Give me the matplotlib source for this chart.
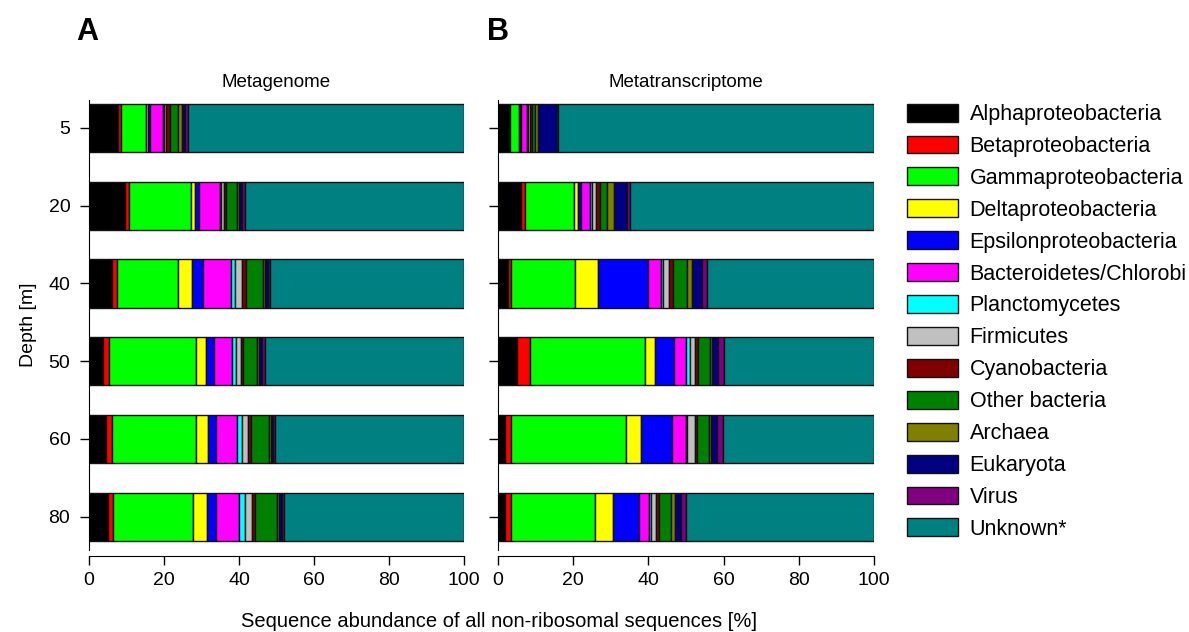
import numpy as np
import matplotlib
matplotlib.use("Agg")
import matplotlib.pyplot as plt
from matplotlib.patches import Patch

plt.rcParams['font.family'] = ['Liberation Sans', 'DejaVu Sans']

depths = ['5', '20', '40', '50', '60', '80']

groups = ['Alphaproteobacteria', 'Betaproteobacteria', 'Gammaproteobacteria',
          'Deltaproteobacteria', 'Epsilonproteobacteria', 'Bacteroidetes/Chlorobi',
          'Planctomycetes', 'Firmicutes', 'Cyanobacteria', 'Other bacteria',
          'Archaea', 'Eukaryota', 'Virus', 'Unknown*']

colors = ['#000000', '#ff0000', '#00ff00', '#ffff00', '#0000ff', '#ff00ff',
          '#00ffff', '#c0c0c0', '#800000', '#008000', '#808000', '#000080',
          '#800080', '#008080']

# metagenome, one list per group, values per depth (5, 20, 40, 50, 60, 80 m)
mg_alpha   = [7.7, 9.6, 6.2, 3.8, 4.5, 5.0]
mg_beta    = [0.8, 1.1, 1.3, 1.6, 1.5, 1.5]
mg_gamma   = [6.7, 16.5, 16.1, 23.1, 22.4, 21.3]
mg_delta   = [0.5, 1.0, 3.8, 2.7, 3.4, 3.7]
mg_epsilon = [0.6, 1.1, 3.1, 2.1, 2.0, 2.3]
mg_bact    = [3.5, 5.7, 7.3, 4.7, 5.7, 6.3]
mg_plancto = [0.3, 0.3, 1.1, 1.2, 1.4, 1.5]
mg_firm    = [0.5, 0.8, 1.8, 1.2, 1.4, 1.8]
mg_cyano   = [1.0, 0.5, 1.2, 0.7, 0.8, 0.9]
mg_other   = [2.0, 2.9, 4.6, 3.8, 4.9, 5.9]
mg_archaea = [1.1, 0.6, 0.4, 0.4, 0.4, 0.5]
mg_euk     = [0.9, 0.7, 0.8, 0.8, 0.6, 0.8]
mg_virus   = [0.7, 0.7, 0.6, 0.8, 0.6, 0.6]
mg_unknown = [73.7, 58.5, 51.7, 53.1, 50.4, 47.9]

# metatranscriptome
mt_alpha   = [3.1, 6.0, 2.7, 5.1, 1.8, 2.0]
mt_beta    = [0.2, 1.1, 0.9, 3.3, 1.8, 1.5]
mt_gamma   = [2.3, 13.1, 16.8, 30.7, 30.4, 22.2]
mt_delta   = [0.3, 1.2, 6.2, 2.6, 4.0, 4.9]
mt_epsilon = [0.3, 0.8, 13.4, 5.2, 8.4, 6.9]
mt_bact    = [1.5, 2.2, 3.3, 3.1, 3.6, 2.7]
mt_plancto = [0.3, 0.5, 0.6, 1.0, 0.4, 0.4]
mt_firm    = [0.5, 1.1, 1.6, 1.3, 1.9, 1.3]
mt_cyano   = [0.6, 1.1, 1.1, 0.8, 0.5, 0.9]
mt_other   = [0.7, 2.0, 3.8, 3.2, 3.2, 3.3]
mt_archaea = [0.9, 1.8, 1.2, 0.6, 0.7, 1.1]
mt_euk     = [5.0, 3.5, 2.6, 1.6, 1.6, 1.6]
mt_virus   = [0.3, 0.7, 1.5, 1.5, 1.6, 1.3]
mt_unknown = [84.0, 64.9, 44.3, 40.0, 40.1, 49.9]

metagenome = [mg_alpha, mg_beta, mg_gamma, mg_delta, mg_epsilon, mg_bact,
              mg_plancto, mg_firm, mg_cyano, mg_other, mg_archaea, mg_euk,
              mg_virus, mg_unknown]
metatranscriptome = [mt_alpha, mt_beta, mt_gamma, mt_delta, mt_epsilon, mt_bact,
                     mt_plancto, mt_firm, mt_cyano, mt_other, mt_archaea, mt_euk,
                     mt_virus, mt_unknown]


def stackedBars(ax, data, title, showLabels=True):
    ypos = np.arange(len(depths))
    left = np.zeros(len(depths))
    for vals, col in zip(data, colors):
        ax.barh(ypos, vals, left=left, height=0.62, color=col,
                edgecolor='#111111', linewidth=1.0)
        left = left + np.array(vals)
    ax.set_ylim(5.43, -0.36)
    ax.set_xlim(0, 100)
    ax.set_yticks(ypos)
    if showLabels:
        ax.set_yticklabels(depths)
    else:
        ax.set_yticklabels([])
    ax.set_xticks([0, 20, 40, 60, 80, 100])
    ax.tick_params(axis='both', labelsize=14, length=6.5, width=1, direction='out')
    ax.tick_params(axis='y', pad=7)
    ax.tick_params(axis='x', pad=5)
    ax.spines['top'].set_visible(False)
    ax.spines['right'].set_visible(False)
    ax.spines['bottom'].set_position(('outward', 4))
    ax.set_title(title, fontsize=13.5, pad=9)


fig = plt.figure(figsize=(11.89, 6.32), dpi=100)
axA = fig.add_axes([0.0749, 0.1297, 0.3154, 0.7121])
axB = fig.add_axes([0.4188, 0.1297, 0.3163, 0.7121])

stackedBars(axA, metagenome, 'Metagenome')
stackedBars(axB, metatranscriptome, 'Metatranscriptome', showLabels=False)
axA.set_ylabel('Depth [m]', fontsize=14, labelpad=8)

fig.text(0.064, 0.949, 'A', fontsize=22, fontweight='bold', ha='left', va='center')
fig.text(0.41, 0.949, 'B', fontsize=22, fontweight='bold', ha='left', va='center')
fig.text(0.42, 0.017, 'Sequence abundance of all non-ribosomal sequences [%]',
         fontsize=14.5, ha='center', va='center')

handles = [Patch(facecolor=c, edgecolor='#111111', linewidth=1.0) for c in colors]
fig.legend(handles, groups, loc='upper left', bbox_to_anchor=(0.763, 0.836),
           frameon=False, fontsize=15.5, handlelength=2.35, handleheight=0.9,
           handletextpad=0.55, labelspacing=0.49, borderpad=0, borderaxespad=0)

plt.savefig('out.png', dpi=100)
